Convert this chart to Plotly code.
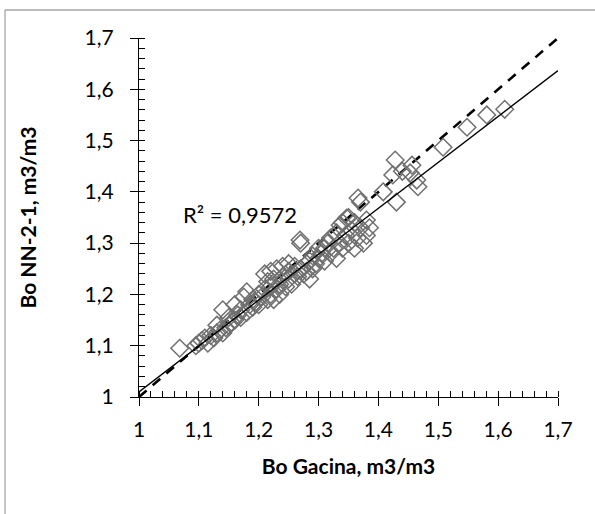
import plotly.graph_objects as go

bo_gacina = [1.068, 1.095, 1.10, 1.105, 1.11, 1.115, 1.12, 1.125, 1.13, 1.13, 1.135, 1.14, 1.14, 1.145,
             1.15, 1.15, 1.155, 1.16, 1.16, 1.165, 1.17, 1.17, 1.175, 1.18, 1.18, 1.185, 1.19, 1.19,
             1.195, 1.20, 1.20, 1.205, 1.21, 1.21, 1.215, 1.215, 1.22, 1.22, 1.225, 1.225, 1.23, 1.23,
             1.235, 1.235, 1.24, 1.24, 1.245, 1.25, 1.25, 1.255, 1.26, 1.26, 1.265, 1.27, 1.27, 1.275,
             1.28, 1.28, 1.285, 1.285, 1.29, 1.29, 1.295, 1.30, 1.30, 1.305, 1.31, 1.31, 1.315, 1.32,
             1.32, 1.325, 1.33, 1.33, 1.335, 1.34, 1.34, 1.345, 1.35, 1.35, 1.355, 1.36, 1.36, 1.365,
             1.37, 1.37, 1.375, 1.38, 1.38, 1.385, 1.366, 1.347, 1.336, 1.269, 1.22, 1.25,
             1.408, 1.43, 1.428, 1.424, 1.44, 1.456, 1.453, 1.464, 1.466, 1.508, 1.548, 1.581, 1.611]
bo_nn21 = [1.095, 1.10, 1.105, 1.11, 1.115, 1.105, 1.12, 1.115, 1.125, 1.14, 1.13, 1.17, 1.125, 1.135,
           1.14, 1.155, 1.145, 1.18, 1.15, 1.16, 1.155, 1.17, 1.195, 1.165, 1.205, 1.18, 1.175, 1.19,
           1.185, 1.20, 1.18, 1.195, 1.24, 1.21, 1.19, 1.225, 1.20, 1.215, 1.19, 1.23, 1.21, 1.25,
           1.22, 1.20, 1.235, 1.255, 1.215, 1.23, 1.245, 1.22, 1.24, 1.255, 1.235, 1.30, 1.25, 1.24,
           1.26, 1.245, 1.265, 1.23, 1.25, 1.275, 1.26, 1.27, 1.29, 1.28, 1.265, 1.29, 1.30, 1.28,
           1.31, 1.29, 1.27, 1.32, 1.30, 1.29, 1.34, 1.315, 1.35, 1.30, 1.325, 1.29, 1.34, 1.31,
           1.38, 1.33, 1.30, 1.315, 1.345, 1.33, 1.388, 1.349, 1.335, 1.306, 1.245, 1.26,
           1.40, 1.38, 1.462, 1.433, 1.44, 1.452, 1.437, 1.423, 1.41, 1.487, 1.526, 1.55, 1.561]

axis_range = [1.0, 1.7]
tick_vals = [1.0, 1.1, 1.2, 1.3, 1.4, 1.5, 1.6, 1.7]
tick_text = ["1", "1,1", "1,2", "1,3", "1,4", "1,5", "1,6", "1,7"]
trend_slope = 0.895
trend_intercept = 0.115
r2_text = "R² = 0,9572"
x_title = "Bo Gacina, m3/m3"
y_title = "Bo NN-2-1, m3/m3"

font_family = "Lato, 'Open Sans', sans-serif"

fig = go.Figure()

# 1:1 dashed line
fig.add_trace(go.Scatter(x=axis_range, y=axis_range, mode="lines",
                         line=dict(color="black", width=2.6, dash="10px,8px"),
                         hoverinfo="skip", showlegend=False))

fig.add_trace(go.Scatter(x=bo_gacina, y=bo_nn21, mode="markers",
                         marker=dict(symbol="diamond-open", size=13.5,
                                     color="#707070", line=dict(width=1.5, color="#707070")),
                         showlegend=False))

trend_y = [trend_slope * v + trend_intercept for v in axis_range]
fig.add_trace(go.Scatter(x=axis_range, y=trend_y, mode="lines",
                         line=dict(color="black", width=1.3),
                         hoverinfo="skip", showlegend=False))

axis_common = dict(
    range=axis_range, tickvals=tick_vals, ticktext=tick_text,
    showgrid=False, zeroline=False, showline=True, linecolor="black", linewidth=1.2,
    ticks="outside", ticklen=8, tickwidth=1.2, tickcolor="black",
    tickfont=dict(family=font_family, size=21, color="black"),
    minor=dict(ticks="inside", ticklen=6, tickwidth=1, tickcolor="black", dtick=0.02, showgrid=False),
)

border_color = "#a6a6a6"

fig.update_layout(
    width=595, height=514,
    margin=dict(l=139, r=37, t=38, b=117),
    paper_bgcolor="white", plot_bgcolor="white",
    xaxis=dict(**axis_common, ticklabelstandoff=6,
               title=dict(text=f"<b>{x_title}</b>", font=dict(family=font_family, size=21, color="black"),
                          standoff=19)),
    yaxis=dict(**axis_common, ticklabelstandoff=12,
               title=dict(text=f"<b>{y_title}</b>", font=dict(family=font_family, size=21, color="black"),
                          standoff=42)),
    annotations=[dict(x=1.169, y=1.355, xref="x", yref="y", text=r2_text, showarrow=False,
                      font=dict(family=font_family, size=22, color="black"))],
    shapes=[
        dict(type="line", xref="paper", yref="paper", x0=-0.3198, y0=-0.4, x1=-0.3198, y1=1.078,
             line=dict(color=border_color, width=1.3), layer="below"),
        dict(type="line", xref="paper", yref="paper", x0=-0.3198, y0=1.078, x1=1.2, y1=1.078,
             line=dict(color=border_color, width=1.3), layer="below"),
    ],
)

fig.write_html("out.html", config={"displayModeBar": False},
               post_script="document.body.style.margin='0';document.body.style.overflow='hidden';")
